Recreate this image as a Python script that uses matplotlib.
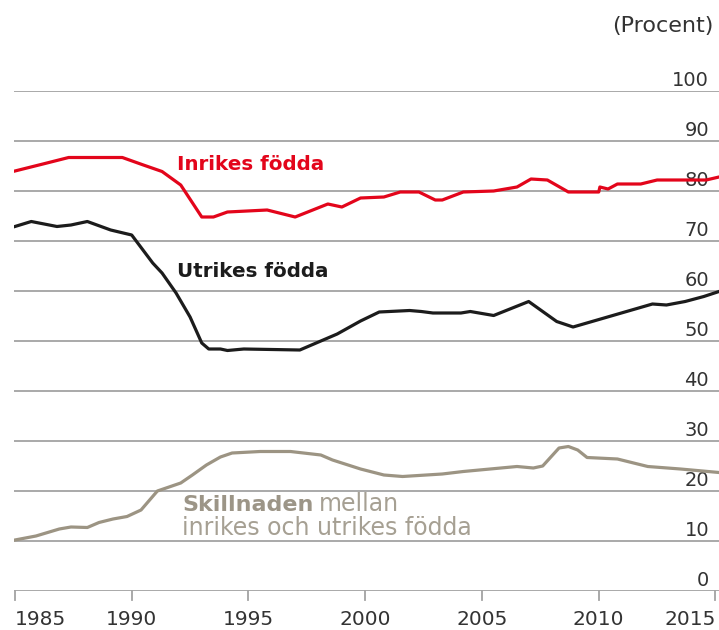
import matplotlib
matplotlib.use("Agg")
import matplotlib.pyplot as plt
import matplotlib.transforms as mtransforms

plt.rcParams['font.family'] = ['DejaVu Sans']

# --- data (percent) ---
inrikes_years = [1985.0, 1986.2, 1987.3, 1989.6, 1990.5, 1991.3, 1992.1, 1993.0, 1993.5,
                 1994.1, 1995.8, 1997.0, 1998.4, 1999.0, 1999.8, 2000.8, 2001.5, 2002.3,
                 2003.0, 2003.3, 2004.2, 2005.5, 2006.5, 2007.1, 2007.8, 2008.7, 2010.0,
                 2010.05, 2010.4, 2010.8, 2011.8, 2012.5, 2014.6, 2015.15]
inrikes = [84.0, 85.4, 86.7, 86.7, 85.2, 83.9, 81.2, 74.8, 74.8,
           75.8, 76.2, 74.8, 77.4, 76.8, 78.6, 78.8, 79.8, 79.8,
           78.2, 78.2, 79.8, 80.0, 80.8, 82.4, 82.2, 79.8, 79.8,
           80.8, 80.4, 81.4, 81.4, 82.2, 82.2, 82.8]

utrikes_years = [1985.0, 1985.7, 1986.8, 1987.4, 1988.1, 1989.1, 1990.0, 1990.9, 1991.3,
                 1991.9, 1992.5, 1993.0, 1993.3, 1993.8, 1994.1, 1994.8, 1997.2, 1998.1,
                 1998.8, 1999.8, 2000.6, 2001.9, 2002.4, 2002.9, 2004.1, 2004.5, 2005.5,
                 2007.0, 2008.2, 2008.9, 2012.3, 2012.9, 2013.7, 2014.5, 2015.15]
utrikes = [72.9, 73.9, 72.9, 73.2, 73.9, 72.2, 71.2, 65.6, 63.6,
           59.6, 54.8, 49.6, 48.4, 48.4, 48.1, 48.4, 48.2, 50.0,
           51.4, 54.0, 55.8, 56.1, 55.9, 55.6, 55.6, 55.9, 55.1,
           57.9, 53.9, 52.8, 57.4, 57.2, 57.9, 58.9, 59.9]

skillnad_years = [1985.0, 1985.9, 1986.9, 1987.4, 1988.1, 1988.6, 1989.2, 1989.8, 1990.4,
                  1991.1, 1992.1, 1992.6, 1993.2, 1993.8, 1994.3, 1995.5, 1996.8, 1998.1,
                  1998.6, 1999.8, 2000.8, 2001.6, 2003.3, 2004.2, 2006.5, 2007.2, 2007.6,
                  2008.3, 2008.7, 2009.1, 2009.5, 2010.8, 2012.1, 2013.5, 2015.15]
skillnad = [10.2, 11.0, 12.4, 12.8, 12.7, 13.7, 14.4, 14.9, 16.2,
            20.0, 21.6, 23.2, 25.2, 26.8, 27.6, 27.9, 27.9, 27.2,
            26.2, 24.4, 23.2, 22.9, 23.4, 23.9, 24.9, 24.6, 25.0,
            28.6, 28.9, 28.2, 26.7, 26.4, 24.9, 24.4, 23.7]

x_ticks = [1985, 1990, 1995, 2000, 2005, 2010, 2015]
y_ticks = [0, 10, 20, 30, 40, 50, 60, 70, 80, 90, 100]

RED = '#e3051b'
BLACK = '#1c1c1c'
TAUPE = '#9c9483'
GRID = '#a3a3a3'
TXT = '#333333'

fig = plt.figure(figsize=(7.19, 6.30), dpi=100)
ax = fig.add_axes([14 / 719, 39 / 630, 705 / 719, 500 / 630])
ax.set_xlim(1984.96, 2015.15)
ax.set_ylim(0, 100)
for s in ax.spines.values():
    s.set_visible(False)
ax.set_yticks([])
ax.set_xticks([])

# gridlines + labels sitting on them at the right
ytr = mtransforms.blended_transform_factory(ax.transAxes, ax.transData)
for v in y_ticks:
    ax.axhline(v, color=GRID, lw=1.3, zorder=1)
    ax.text(0.986, v + 1.0, str(v), transform=ytr,
            ha='right', va='baseline', fontsize=14, color=TXT)

# x ticks: short marks below the zero line
tr = mtransforms.blended_transform_factory(ax.transData, ax.transAxes)
for i, yr in enumerate(x_ticks):
    ax.plot([yr, yr], [0, -0.018], transform=tr, color=GRID, lw=1.3, clip_on=False)
    ha = 'center'
    if i == 0:
        ha = 'left'
    elif i == len(x_ticks) - 1:
        ha = 'right'
    ax.text(yr, -0.068, str(yr), transform=tr, ha=ha, va='baseline', fontsize=14.5, color=TXT)

ax.plot(inrikes_years, inrikes, color=RED, lw=2.3, zorder=3, solid_joinstyle='round')
ax.plot(utrikes_years, utrikes, color=BLACK, lw=2.3, zorder=3, solid_joinstyle='round')
ax.plot(skillnad_years, skillnad, color=TAUPE, lw=2.3, zorder=3, solid_joinstyle='round')

ax.text(1991.95, 84.2, 'Inrikes födda', color=RED, fontsize=14.3, fontweight='bold', va='baseline', ha='left')
ax.text(1991.95, 62.8, 'Utrikes födda', color=BLACK, fontsize=14.3, fontweight='bold', va='baseline', ha='left')
t1 = ax.text(1992.15, 16.0, 'Skillnaden', color='#9c9587', fontsize=16, fontweight='bold', va='baseline', ha='left')
ax.text(1992.15, 11.2, 'inrikes och utrikes födda', color='#a6a093', fontsize=17, va='baseline', ha='left')

# put "mellan" right after the bold word, on the same baseline
fig.canvas.draw()
bb = t1.get_window_extent()
x_mellan = ax.transData.inverted().transform((bb.x1 + 6, 0))[0]
ax.text(x_mellan, 16.0, 'mellan', color='#a6a093', fontsize=17, va='baseline', ha='left')

fig.text(714 / 719, 1 - 32 / 630, '(Procent)', ha='right', va='baseline', fontsize=16, color=TXT)

fig.savefig('out.png', dpi=100)
